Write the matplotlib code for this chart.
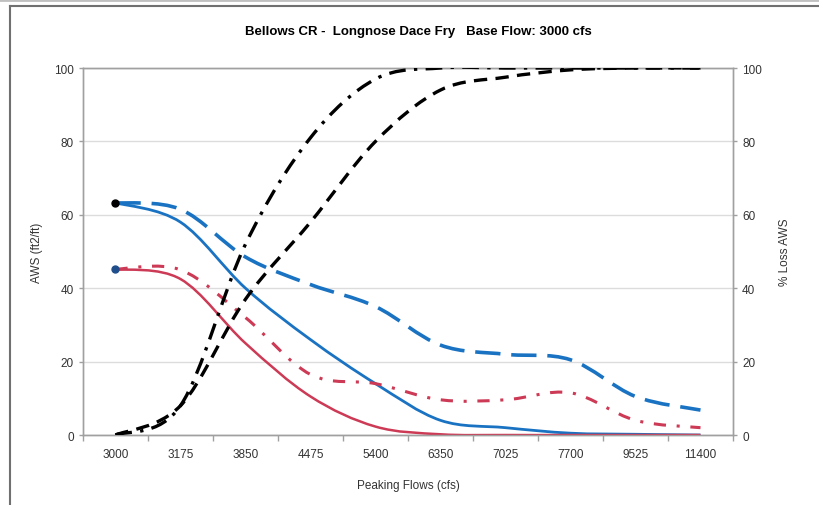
import matplotlib
matplotlib.use("Agg")
import matplotlib.pyplot as plt
from matplotlib.path import Path
from matplotlib.patches import PathPatch
from matplotlib.lines import Line2D

plt.rcParams['font.family'] = ['Liberation Sans', 'DejaVu Sans']

# Peaking flow categories (cfs)
flows = ["3000", "3175", "3850", "4475", "5400", "6350", "7025", "7700", "9525", "11400"]

# AWS (ft2/ft), left axis
aws_blue_solid = [63.3, 58, 40, 26, 14, 4, 2, 0.5, 0.2, 0]
aws_blue_dash = [63.3, 61.5, 48.5, 41, 35, 24.5, 22, 20.5, 10.5, 6.8]
aws_red_solid = [45.2, 42.5, 25, 10.5, 2.3, 0.2, 0, 0, 0, 0]
aws_red_dashdot = [45.2, 45, 32, 16.5, 14, 9.6, 9.6, 11.5, 4, 2]

# % Loss AWS, right axis
loss_dashdot = [0, 8, 52, 81, 97, 100, 100, 100, 100, 100]
loss_dash = [0, 8, 37, 58, 80, 94, 97.5, 99.5, 100, 100]

x = list(range(len(flows)))


def smooth_path(xs, ys):
    # Excel-like smoothed line: cubic Bezier segments through each point
    n = len(xs)
    verts = [(xs[0], ys[0])]
    codes = [Path.MOVETO]
    for i in range(n - 1):
        i0 = max(i - 1, 0)
        i3 = min(i + 2, n - 1)
        c1 = (xs[i] + (xs[i + 1] - xs[i0]) / 6, ys[i] + (ys[i + 1] - ys[i0]) / 6)
        c2 = (xs[i + 1] - (xs[i3] - xs[i]) / 6, ys[i + 1] - (ys[i3] - ys[i]) / 6)
        verts += [c1, c2, (xs[i + 1], ys[i + 1])]
        codes += [Path.CURVE4] * 3
    return Path(verts, codes)


def add_curve(ax, ys, color, lw, ls):
    patch = PathPatch(smooth_path(x, ys), fill=False, edgecolor=color,
                      linewidth=lw, linestyle=ls, capstyle='butt', zorder=3)
    ax.add_patch(patch)


fig = plt.figure(figsize=(8.2, 5.06), dpi=100)
ax = fig.add_axes([0.1012, 0.1383, 0.7927, 0.7253])
ax2 = ax.twinx()

blue = '#1a73c2'
red = '#cc3a55'

add_curve(ax, aws_blue_dash, blue, 2.6, (0, (7, 3)))
add_curve(ax, aws_blue_solid, blue, 2.0, '-')
add_curve(ax, aws_red_dashdot, red, 2.2, (0, (4, 3.5, 1, 3.5)))
add_curve(ax, aws_red_solid, red, 1.8, '-')
ax.plot(x[0], aws_blue_solid[0], 'o', color='black', markersize=5, zorder=4)
ax.plot(x[0], aws_red_solid[0], 'o', color='#1f4e8c', markersize=5, zorder=4)

add_curve(ax2, loss_dashdot, 'black', 2.4, (0, (5, 2.5, 1, 2.5)))
add_curve(ax2, loss_dash, 'black', 2.4, (0, (4, 2.5)))

spine_col = '#a0a0a0'
for a in (ax, ax2):
    a.set_xlim(-0.5, len(flows) - 0.5)
    a.set_ylim(0, 100)
    a.set_yticks([0, 20, 40, 60, 80, 100])
    for s in a.spines.values():
        s.set_color(spine_col)
        s.set_linewidth(1.0)
    a.tick_params(axis='y', colors=spine_col, labelcolor='#333333',
                  labelsize=8.5, length=3, width=1)

ax.grid(axis='y', color='#dcdcdc', linewidth=1)
ax.set_axisbelow(True)

ax.set_xticks(x)
ax.set_xticklabels(flows)
ax.set_xticks([i + 0.5 for i in range(-1, len(flows))], minor=True)
ax.tick_params(axis='x', which='major', length=0, labelsize=8.5,
               labelcolor='#333333', pad=9)
ax.tick_params(axis='x', which='minor', length=4, color=spine_col, width=1)

ax.set_ylabel("AWS (ft2/ft)", fontsize=8.5, color='#333333', labelpad=8)
ax2.set_ylabel("% Loss AWS", fontsize=8.5, color='#333333', labelpad=12)
ax.set_xlabel("Peaking Flows (cfs)", fontsize=8.5, color='#333333', labelpad=14)

fig.text(0.51, 0.937, "Bellows CR -  Longnose Dace Fry   Base Flow: 3000 cfs",
         ha='center', va='center', fontsize=9.5, fontweight='bold')

# chart-area frame (top and left edges visible)
fig.add_artist(Line2D([10 / 820, 1], [1 - 7 / 506, 1 - 7 / 506],
                      transform=fig.transFigure, color='#707070', linewidth=1.5))
fig.add_artist(Line2D([10 / 820, 10 / 820], [0, 1 - 7 / 506],
                      transform=fig.transFigure, color='#707070', linewidth=1.5))
fig.add_artist(Line2D([0, 1], [1 - 1 / 506, 1 - 1 / 506],
                      transform=fig.transFigure, color='#c0c0c0', linewidth=2))

fig.savefig("out.png", dpi=100)
